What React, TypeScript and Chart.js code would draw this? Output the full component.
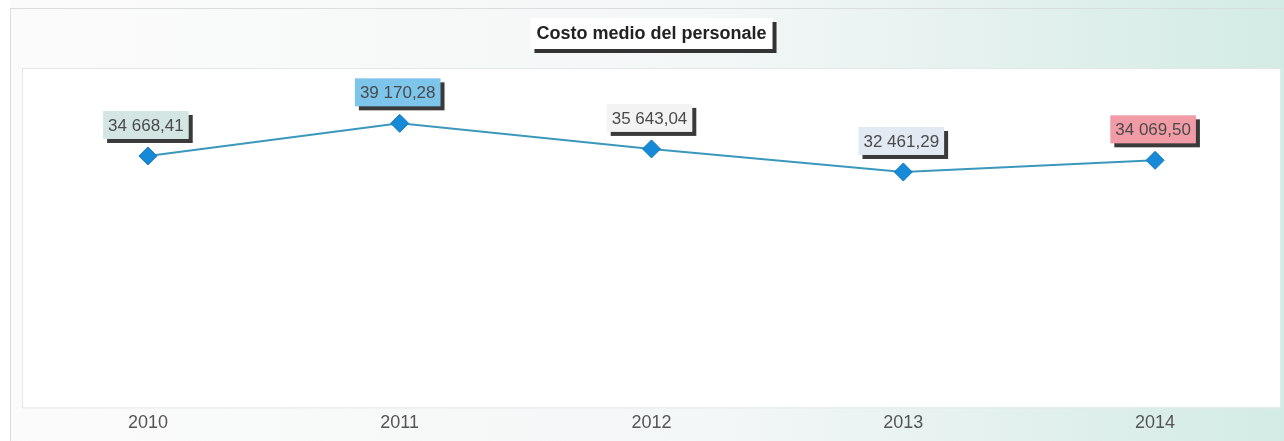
import React, { useEffect, useRef } from "react";
import { Chart, registerables } from "chart.js";

Chart.register(...registerables);

const categories = ["2010", "2011", "2012", "2013", "2014"];
const costoMedio = [34668.41, 39170.28, 35643.04, 32461.29, 34069.5];
const valueLabels = ["34 668,41", "39 170,28", "35 643,04", "32 461,29", "34 069,50"];
const titleText = "Costo medio del personale";

const labelFills = ["#d3e6e4", "#7ec5ec", "#f3f3f3", "#e1e9f3", "#f09ba5"];

const backgroundPlugin = {
  id: "bgPlugin",
  beforeDraw(chart: any) {
    const { ctx, width, height, chartArea } = chart;
    ctx.save();
    const g = ctx.createLinearGradient(0, 0, width, 0);
    g.addColorStop(0, "#fbfbfb");
    g.addColorStop(0.55, "#f4f7f7");
    g.addColorStop(1, "#d3ebe5");
    ctx.fillStyle = g;
    ctx.fillRect(0, 0, width, height);
    ctx.fillStyle = "#ffffff";
    ctx.fillRect(0, 0, 10, height);
    ctx.strokeStyle = "#d9dddd";
    ctx.lineWidth = 1;
    ctx.strokeRect(10.5, 8.5, width - 10, height - 8);
    ctx.fillStyle = "#ffffff";
    ctx.fillRect(chartArea.left, chartArea.top, chartArea.right - chartArea.left, chartArea.bottom - chartArea.top);
    ctx.strokeStyle = "#e3e8e8";
    ctx.strokeRect(chartArea.left + 0.5, chartArea.top + 0.5, chartArea.right - chartArea.left - 1, chartArea.bottom - chartArea.top);
    ctx.restore();
  },
};

const boxesPlugin = {
  id: "boxesPlugin",
  afterDraw(chart: any) {
    const { ctx, chartArea } = chart;
    ctx.save();
    // title box
    ctx.font = "bold 18px 'Liberation Sans', Arial, sans-serif";
    const tw = ctx.measureText(titleText).width;
    const cx = (chartArea.left + chartArea.right) / 2;
    const bw = tw + 12;
    const bh = 31;
    const bx = cx - bw / 2;
    const by = 18;
    ctx.fillStyle = "#333333";
    ctx.fillRect(bx + 4, by + 4, bw, bh);
    ctx.fillStyle = "#ffffff";
    ctx.fillRect(bx, by, bw, bh);
    ctx.fillStyle = "#222222";
    ctx.textAlign = "center";
    ctx.textBaseline = "middle";
    ctx.fillText(titleText, cx, by + bh / 2 + 1);

    // value labels
    const meta = chart.getDatasetMeta(0);
    ctx.font = "17px 'Liberation Sans', Arial, sans-serif";
    meta.data.forEach((pt: any, i: number) => {
      const txt = valueLabels[i];
      const w = ctx.measureText(txt).width + 10;
      const h = 28;
      const x = pt.x - w / 2 - 2;
      const y = pt.y - 17 - h;
      ctx.fillStyle = "#3a3a3a";
      ctx.fillRect(x + 4, y + 4, w, h);
      ctx.fillStyle = labelFills[i];
      ctx.fillRect(x, y, w, h);
      ctx.fillStyle = "#4a4a4a";
      ctx.textAlign = "center";
      ctx.textBaseline = "middle";
      ctx.fillText(txt, x + w / 2, y + h / 2 + 1);
    });
    ctx.restore();
  },
};

export default function App() {
  const ref = useRef<HTMLCanvasElement | null>(null);
  useEffect(() => {
    document.body.style.margin = "0";
    const chart = new Chart(ref.current as HTMLCanvasElement, {
      type: "line",
      data: {
        labels: categories,
        datasets: [
          {
            data: costoMedio,
            borderColor: "#3a98bc",
            borderWidth: 2,
            pointStyle: "rectRot",
            pointRadius: 9,
            pointBackgroundColor: "#168ad6",
            pointBorderColor: "#1478c0",
            pointBorderWidth: 1,
            tension: 0,
          },
        ],
      },
      options: {
        responsive: false,
        animation: false,
        layout: { autoPadding: false, padding: { left: 22, right: 3, top: 68, bottom: 2 } },
        plugins: { legend: { display: false }, tooltip: { enabled: false }, title: { display: false } },
        scales: {
          x: {
            offset: true,
            grid: { display: false, drawTicks: false },
            border: { display: false },
            ticks: { color: "#555555", padding: 5, font: { size: 18, family: "'Liberation Sans', Arial, sans-serif" } },
            afterFit: (scale: any) => {
              scale.paddingLeft = 0;
              scale.paddingRight = 0;
            },
          },
          y: { display: false, min: 0, max: 46800 },
        },
      },
      plugins: [backgroundPlugin, boxesPlugin],
    });
    return () => chart.destroy();
  }, []);
  return (
    <div style={{ width: 1284, height: 441 }}>
      <canvas ref={ref} width={1284} height={441} style={{ width: 1284, height: 441, display: "block" }} />
    </div>
  );
}
